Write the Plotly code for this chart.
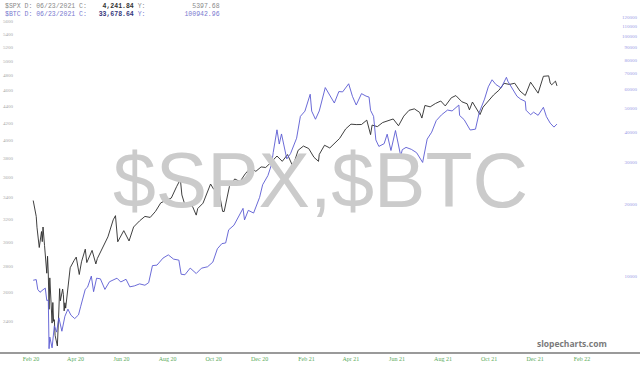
import plotly.graph_objects as go
import math

spx_dates = ["2020-02-20","2020-02-21","2020-02-24","2020-02-25","2020-02-27","2020-02-28","2020-03-02","2020-03-03","2020-03-04","2020-03-05","2020-03-06","2020-03-09","2020-03-10","2020-03-11","2020-03-12","2020-03-13","2020-03-16","2020-03-17","2020-03-18","2020-03-19","2020-03-20","2020-03-23","2020-03-24","2020-03-25","2020-03-26","2020-03-27","2020-03-30","2020-03-31","2020-04-01","2020-04-02","2020-04-03","2020-04-06","2020-04-08","2020-04-09","2020-04-14","2020-04-17","2020-04-21","2020-04-24","2020-04-29","2020-05-01","2020-05-08","2020-05-13","2020-05-15","2020-05-22","2020-05-29","2020-06-05","2020-06-08","2020-06-11","2020-06-19","2020-06-26","2020-07-02","2020-07-10","2020-07-17","2020-07-24","2020-07-31","2020-08-07","2020-08-14","2020-08-21","2020-08-28","2020-09-02","2020-09-04","2020-09-08","2020-09-11","2020-09-18","2020-09-23","2020-09-25","2020-10-02","2020-10-09","2020-10-12","2020-10-16","2020-10-23","2020-10-28","2020-10-30","2020-11-06","2020-11-13","2020-11-20","2020-11-27","2020-12-04","2020-12-11","2020-12-18","2020-12-24","2020-12-31","2021-01-08","2021-01-15","2021-01-22","2021-01-29","2021-02-05","2021-02-12","2021-02-19","2021-02-26","2021-03-04","2021-03-05","2021-03-12","2021-03-19","2021-03-26","2021-04-01","2021-04-09","2021-04-16","2021-04-23","2021-04-30","2021-05-07","2021-05-12","2021-05-14","2021-05-21","2021-05-28","2021-06-04","2021-06-11","2021-06-18","2021-06-25","2021-07-02","2021-07-09","2021-07-16","2021-07-19","2021-07-23","2021-07-30","2021-08-06","2021-08-13","2021-08-19","2021-08-27","2021-09-02","2021-09-10","2021-09-17","2021-09-20","2021-09-24","2021-10-01","2021-10-04","2021-10-08","2021-10-15","2021-10-22","2021-10-29","2021-11-05","2021-11-12","2021-11-19","2021-11-26","2021-11-30","2021-12-03","2021-12-10","2021-12-17","2021-12-20","2021-12-27","2021-12-29","2022-01-03","2022-01-05","2022-01-07","2022-01-12","2022-01-14"]
spx_values = [3373,3338,3225,3128,2979,2954,3090,3003,3130,3024,2972,2747,2882,2741,2481,2711,2386,2529,2398,2409,2305,2237,2447,2476,2630,2541,2627,2585,2470,2527,2489,2664,2750,2790,2846,2875,2737,2837,2940,2831,2930,2820,2864,2955,3044,3194,3232,3002,3098,3009,3130,3185,3225,3216,3271,3351,3373,3397,3508,3580,3427,3332,3341,3319,3237,3298,3348,3477,3534,3484,3465,3271,3270,3510,3585,3558,3638,3699,3663,3709,3703,3756,3825,3768,3841,3714,3887,3934,3907,3811,3768,3842,3943,3913,3975,4020,4129,4185,4180,4181,4233,4063,4174,4156,4204,4230,4247,4166,4281,4352,4370,4327,4258,4412,4395,4437,4468,4406,4509,4537,4458,4433,4358,4455,4357,4300,4391,4471,4545,4605,4697,4682,4698,4595,4567,4538,4712,4620,4568,4791,4793,4797,4701,4677,4726,4663]

btc_dates = ["2020-02-20","2020-02-24","2020-02-26","2020-02-29","2020-03-04","2020-03-07","2020-03-09","2020-03-11","2020-03-12","2020-03-13","2020-03-16","2020-03-19","2020-03-22","2020-03-25","2020-03-29","2020-04-02","2020-04-06","2020-04-10","2020-04-15","2020-04-20","2020-04-23","2020-04-29","2020-05-02","2020-05-07","2020-05-10","2020-05-14","2020-05-19","2020-05-25","2020-05-31","2020-06-02","2020-06-10","2020-06-15","2020-06-22","2020-06-27","2020-07-03","2020-07-10","2020-07-17","2020-07-22","2020-07-27","2020-08-02","2020-08-10","2020-08-17","2020-08-24","2020-08-31","2020-09-03","2020-09-08","2020-09-15","2020-09-23","2020-09-30","2020-10-08","2020-10-15","2020-10-21","2020-10-27","2020-11-01","2020-11-05","2020-11-12","2020-11-18","2020-11-24","2020-11-26","2020-12-01","2020-12-08","2020-12-16","2020-12-20","2020-12-27","2021-01-01","2021-01-03","2021-01-08","2021-01-11","2021-01-14","2021-01-21","2021-01-26","2021-01-29","2021-02-03","2021-02-08","2021-02-14","2021-02-21","2021-02-23","2021-02-28","2021-03-05","2021-03-13","2021-03-18","2021-03-25","2021-03-31","2021-04-05","2021-04-13","2021-04-18","2021-04-23","2021-04-30","2021-05-06","2021-05-10","2021-05-12","2021-05-16","2021-05-19","2021-05-23","2021-05-30","2021-06-03","2021-06-08","2021-06-14","2021-06-21","2021-06-23","2021-06-28","2021-07-05","2021-07-12","2021-07-20","2021-07-26","2021-08-01","2021-08-07","2021-08-14","2021-08-22","2021-08-28","2021-09-06","2021-09-07","2021-09-13","2021-09-21","2021-09-28","2021-10-03","2021-10-10","2021-10-15","2021-10-20","2021-10-25","2021-11-01","2021-11-08","2021-11-10","2021-11-16","2021-11-22","2021-11-27","2021-12-03","2021-12-04","2021-12-10","2021-12-14","2021-12-20","2021-12-27","2021-12-31","2022-01-05","2022-01-10","2022-01-14"]
btc_values = [9600,9660,8790,8550,8760,8900,7900,7930,4970,5560,5010,6190,5830,6690,5880,6790,7270,6860,6640,6880,7480,8800,8980,9990,8600,9790,9730,8790,9460,9530,9790,9440,9690,9010,9090,9270,9150,9380,11050,11100,11880,12250,11760,11650,10170,10120,10790,10240,10780,10930,11430,12990,13650,13740,15590,16300,17780,19160,17150,18800,18320,21310,24040,26270,29370,32780,40780,35570,39190,30830,32470,34320,37620,46400,48800,57410,48820,45140,48880,61220,57850,52770,58920,58730,63500,56270,51760,57750,56400,55860,49150,46420,37000,34770,35700,39100,33430,40520,31680,33680,34440,33800,32730,29800,37280,39880,44550,47100,49320,48900,51750,46810,44960,40700,41040,48200,54770,61670,65990,63080,61000,67560,64990,60200,56300,54730,53600,49250,47140,48330,46880,50640,46300,43500,41860,43100]

spx_ticks = [2400,2600,2800,3000,3200,3400,3600,3800,4000,4200,4400,4600,4800,5000,5200,5400,5600]
btc_ticks = [10000,20000,30000,40000,50000,60000,70000,80000,90000,100000,110000,120000]
x_tick_dates = ["2020-02-17","2020-04-16","2020-06-16","2020-08-16","2020-10-16","2020-12-16","2021-02-16","2021-04-16","2021-06-16","2021-08-16","2021-10-16","2021-12-16","2022-02-16"]
x_tick_labels = ["Feb 20","Apr 20","Jun 20","Aug 20","Oct 20","Dec 20","Feb 21","Apr 21","Jun 21","Aug 21","Oct 21","Dec 21","Feb 22"]

fig = go.Figure()
fig.add_trace(go.Scatter(x=spx_dates, y=spx_values, mode="lines", name="$SPX",
                         line=dict(color="#2a2a2a", width=0.9), yaxis="y"))
fig.add_trace(go.Scatter(x=btc_dates, y=btc_values, mode="lines", name="$BTC",
                         line=dict(color="#5a5ad2", width=0.9), yaxis="y2"))

fig.update_layout(
    width=640, height=365,
    margin=dict(l=0, r=0, t=0, b=13),
    paper_bgcolor="white", plot_bgcolor="white",
    showlegend=False,
    xaxis=dict(type="date", range=["2020-01-07", "2022-05-04"],
               tickvals=x_tick_dates, ticktext=x_tick_labels,
               tickfont=dict(family="Liberation Serif", size=6, color="#5aaa5a"),
               showgrid=False, zeroline=False, showline=True,
               linecolor="#9a9a9a", linewidth=1.5, ticks="", ticklen=0),
    yaxis=dict(type="log", range=[math.log10(2199), math.log10(5943)],
               tickvals=spx_ticks, ticktext=[str(v) for v in spx_ticks],
               ticklabelposition="inside", showgrid=False, zeroline=False,
               tickfont=dict(family="Liberation Serif", size=5, color="#a8a8a8"),
               ticks=""),
    yaxis2=dict(type="log", range=[math.log10(4815), math.log10(142100)],
                overlaying="y", side="right",
                tickvals=btc_ticks, ticktext=[str(v) for v in btc_ticks],
                ticklabelposition="inside", showgrid=False, zeroline=False,
                tickfont=dict(family="Liberation Serif", size=5, color="#9a9ae6"),
                ticks=""),
)

row1 = ("$SPX D: 06/23/2021 C:" + "&nbsp;" * 4 + "<b><span style='color:#333'>4,241.84</span></b>"
        + " Y:" + "&nbsp;" * 12 + "5397.68")
row2 = ("$BTC D: 06/23/2021 C:" + "&nbsp;" * 3 + "<b><span style='color:#33337a'>33,678.64</span></b>"
        + " Y:" + "&nbsp;" * 10 + "100942.96")

anns = [
    dict(text="$SPX,$BTC", x=0.5, y=0.49, xref="paper", yref="paper",
         showarrow=False, font=dict(family="Liberation Sans", size=77, color="#cbcbcb"),
         xanchor="center", yanchor="middle"),
    dict(text=row1, x=3, y=6, xref="pixel", yref="pixel", showarrow=False,
         font=dict(family="Liberation Mono", size=6.5, color="#8a8a8a"), xanchor="left", yanchor="middle"),
    dict(text=row2, x=3, y=14, xref="pixel", yref="pixel", showarrow=False,
         font=dict(family="Liberation Mono", size=6.5, color="#7a7ad0"), xanchor="left", yanchor="middle"),
    dict(text="<b>slopecharts.com</b>", x=609, y=343, xref="pixel", yref="pixel", showarrow=False,
         font=dict(family="Open Sans", size=8.5, color="#7a7a7a"), xanchor="right", yanchor="middle"),
]
out = []
for a in anns:
    if a.get("xref") == "pixel":
        a["x"] = a["x"] / 640
        a["y"] = (352 - a["y"]) / 352
        a["xref"] = "paper"; a["yref"] = "paper"
    out.append(a)
fig.update_layout(annotations=out)
fig.write_html("out.html")
